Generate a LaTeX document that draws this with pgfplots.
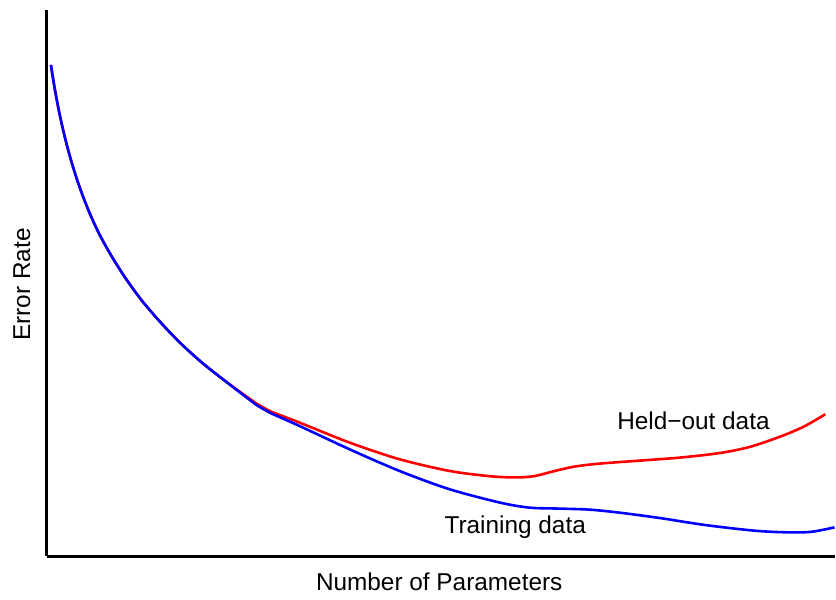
\documentclass[border=0pt]{standalone}
\usepackage{pgfplots}
\pgfplotsset{compat=1.18}
\usepackage{fontspec}
\setmainfont{Liberation Sans}
\begin{document}
\fontsize{12.2bp}{14bp}\selectfont
\begin{tikzpicture}
\begin{axis}[
  at={(0,0)}, anchor=south west,
  scale only axis,
  width=394.5bp, height=273.5bp,
  xmin=47, xmax=836, ymin=0, ymax=547,
  axis x line=bottom, axis y line=left,
  axis line style={-, line width=1.5bp, black},
  xtick=\empty, ytick=\empty,
  clip=false,
]
\addplot[red, line width=1.3bp, smooth, tension=0.5] coordinates {
(51,492) (55,467.2) (60,441.3) (66,415.4) (73,390.2) (81,366) (90,343) (100,321.5) (112,300) (126,278) (142,256) (160,235) (180,214) (202,194) (226,175) (258,152)
(270,145.3) (300,133.7) (350,113.7) (400,97) (450,85.3) (490,80) (516.7,78.7) (535,80) (555,85) (575,89.5) (600,92.5) (640,95.5) (680,98.5) (720,103) (750,109) (780,119) (805,129.5) (826.7,142)
};
\addplot[blue, line width=1.3bp, smooth, tension=0.5] coordinates {
(51,492) (55,467.2) (60,441.3) (66,415.4) (73,390.2) (81,366) (90,343) (100,321.5) (112,300) (126,278) (142,256) (160,235) (180,214) (202,194) (226,175) (258,150.5)
(270,143.7) (300,130.3) (350,107) (400,85.3) (450,67) (500,53.7) (530,48.5) (560,47.5) (590,46.5) (620,43.5) (660,38.2) (706.7,31) (756.7,25.3) (790,23.7) (813.3,24.3) (836,28.7)
};
\node[anchor=base west, inner sep=0pt] at (axis cs:618,127) {Held−out data};
\node[anchor=base west, inner sep=0pt] at (axis cs:445,23) {Training data};
\end{axis}
\node[anchor=center] at (196.5bp,-13bp) {Number of Parameters};
\node[anchor=center, rotate=90] at (-12.5bp,136bp) {Error Rate};
\useasboundingbox (-23.5bp,-19bp) rectangle (394.5bp,278.5bp);
\end{tikzpicture}
\end{document}
